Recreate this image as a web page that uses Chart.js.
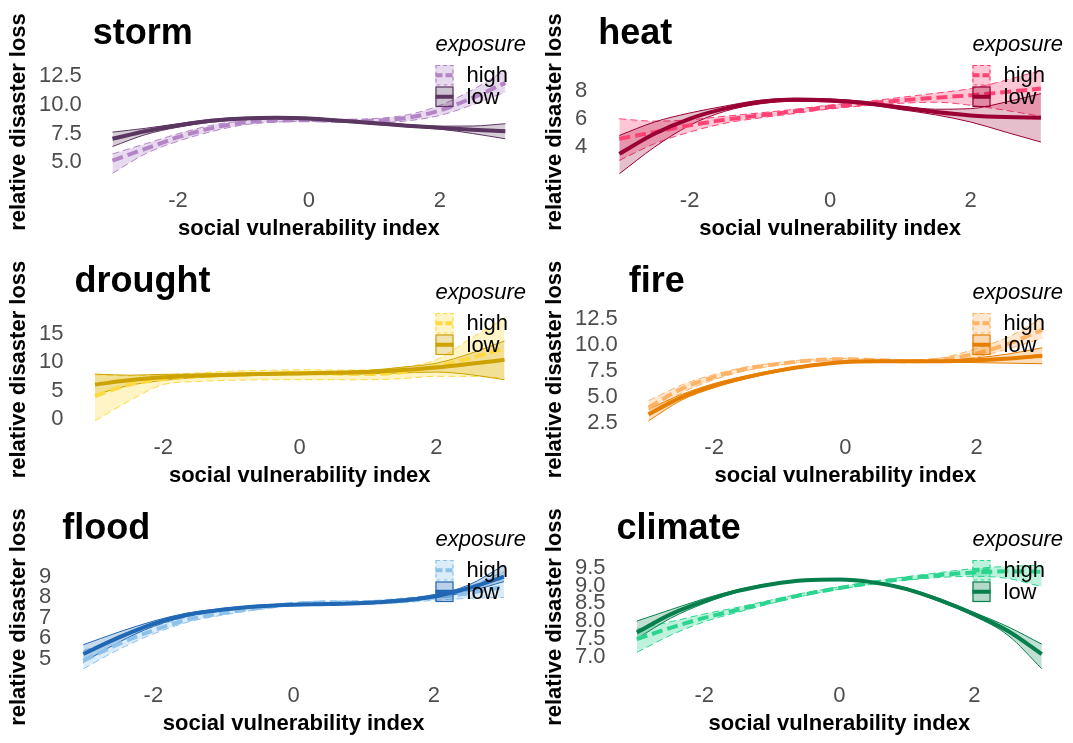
<!DOCTYPE html>
<html>
<head>
<meta charset="utf-8">
<script src="https://cdn.jsdelivr.net/npm/chart.js@4.4.1/dist/chart.umd.min.js"></script>
<style>
  html, body { margin: 0; padding: 0; background: #fff; }
  #grid { position: relative; width: 1073px; height: 743px; }
  .cell { position: absolute; }
</style>
</head>
<body>
<div id="grid"></div>
<script>
// social vulnerability index (x positions of the smoothed curves)
const svi = [-3, -2.5, -2, -1.5, -1, -0.5, 0, 0.5, 1, 1.5, 2, 2.5, 3];
const xTicks = [-2, 0, 2];
const xTickLabels = ["-2", "0", "2"];

// storm
const stormHigh   = [5.15, 6.17, 7.18, 7.95, 8.45, 8.62, 8.65, 8.6, 8.62, 8.87, 9.5, 10.6, 11.9];
const stormHighLo = [4.04, 5.73, 6.83, 7.65, 8.25, 8.5, 8.55, 8.48, 8.45, 8.6, 9.07, 10.0, 11.1];
const stormHighHi = [5.73, 6.6, 7.47, 8.2, 8.6, 8.75, 8.77, 8.72, 8.8, 9.12, 9.94, 11.3, 13.0];
const stormLow    = [7.04, 7.7, 8.2, 8.6, 8.8, 8.87, 8.8, 8.6, 8.4, 8.18, 8.0, 7.83, 7.7];
const stormLowLo  = [6.37, 7.4, 8.05, 8.48, 8.7, 8.78, 8.7, 8.5, 8.3, 8.08, 7.88, 7.5, 7.04];
const stormLowHi  = [7.62, 7.95, 8.35, 8.72, 8.9, 8.96, 8.9, 8.7, 8.5, 8.28, 8.14, 8.15, 8.35];
const stormTicks = [5, 7.5, 10, 12.5];
const stormTickLabels = ["5.0", "7.5", "10.0", "12.5"];

// heat
const heatHigh   = [4.6, 5.07, 5.55, 5.95, 6.26, 6.55, 6.86, 7.1, 7.33, 7.52, 7.69, 7.93, 8.17];
const heatHighLo = [3.05, 4.24, 5.07, 5.7, 6.08, 6.4, 6.72, 6.95, 7.12, 7.2, 6.98, 6.62, 6.2];
const heatHighHi = [6.02, 5.85, 5.95, 6.2, 6.44, 6.7, 7.0, 7.25, 7.54, 7.84, 8.17, 8.76, 9.48];
const heatLow    = [3.52, 4.95, 6.02, 6.74, 7.21, 7.38, 7.33, 7.14, 6.81, 6.5, 6.26, 6.14, 6.1];
const heatLowLo  = [2.1, 4.0, 5.55, 6.55, 7.08, 7.27, 7.22, 7.03, 6.68, 6.3, 5.79, 5.07, 4.36];
const heatLowHi  = [4.83, 5.79, 6.43, 6.92, 7.34, 7.49, 7.44, 7.25, 6.94, 6.7, 6.74, 7.21, 7.81];
const heatTicks = [4, 6, 8];
const heatTickLabels = ["4", "6", "8"];

// drought
const droughtHigh   = [4.04, 6.06, 7.04, 7.5, 7.8, 7.95, 8.08, 8.0, 7.9, 8.25, 9.23, 10.7, 12.4];
const droughtHighLo = [-0.3, 3.17, 6.06, 6.6, 6.8, 6.9, 6.92, 6.9, 6.9, 7.1, 7.5, 7.5, 7.2];
const droughtHighHi = [7.8, 7.6, 7.8, 8.1, 8.4, 8.55, 8.65, 8.6, 8.6, 9.1, 10.4, 14.1, 17.7];
const droughtLow    = [6.06, 6.8, 7.33, 7.6, 7.8, 7.92, 8.02, 8.12, 8.25, 8.6, 9.06, 9.7, 10.4];
const droughtLowLo  = [4.3, 5.9, 6.8, 7.3, 7.55, 7.7, 7.8, 7.9, 7.95, 8.1, 8.25, 7.8, 6.9];
const droughtLowHi  = [7.9, 7.7, 7.85, 7.9, 8.05, 8.15, 8.25, 8.35, 8.55, 9.1, 9.8, 11.5, 13.7];
const droughtTicks = [0, 5, 10, 15];
const droughtTickLabels = ["0", "5", "10", "15"];

// fire
const fireHigh   = [4.0, 5.79, 6.92, 7.72, 8.2, 8.53, 8.63, 8.53, 8.44, 8.63, 9.18, 10.15, 11.44];
const fireHighLo = [3.37, 5.4, 6.67, 7.55, 8.08, 8.43, 8.55, 8.45, 8.34, 8.45, 8.85, 9.66, 10.63];
const fireHighHi = [4.66, 6.15, 7.17, 7.9, 8.32, 8.63, 8.71, 8.61, 8.54, 8.8, 9.66, 10.8, 12.56];
const fireLow    = [3.37, 4.98, 6.1, 6.92, 7.56, 8.05, 8.37, 8.44, 8.44, 8.44, 8.53, 8.7, 8.95];
const fireLowLo  = [2.73, 4.7, 5.9, 6.78, 7.45, 7.97, 8.3, 8.37, 8.37, 8.35, 8.3, 8.25, 8.2];
const fireLowHi  = [3.85, 5.25, 6.3, 7.06, 7.67, 8.13, 8.44, 8.51, 8.51, 8.53, 8.76, 9.15, 9.73];
const fireTicks = [2.5, 5, 7.5, 10, 12.5];
const fireTickLabels = ["2.5", "5.0", "7.5", "10.0", "12.5"];

// flood
const floodHigh   = [4.92, 5.72, 6.39, 6.92, 7.24, 7.48, 7.67, 7.75, 7.75, 7.83, 7.99, 8.2, 8.52];
const floodHighLo = [4.52, 5.45, 6.22, 6.8, 7.14, 7.4, 7.6, 7.68, 7.67, 7.72, 7.85, 7.95, 7.99];
const floodHighHi = [5.4, 6.0, 6.56, 7.04, 7.34, 7.56, 7.74, 7.82, 7.83, 7.94, 8.13, 8.52, 9.24];
const floodLow    = [5.24, 6.04, 6.71, 7.16, 7.4, 7.56, 7.64, 7.67, 7.72, 7.83, 8.04, 8.44, 9.0];
const floodLowLo  = [4.84, 5.8, 6.58, 7.08, 7.34, 7.51, 7.6, 7.63, 7.67, 7.76, 7.96, 8.28, 8.76];
const floodLowHi  = [5.69, 6.3, 6.84, 7.24, 7.46, 7.61, 7.68, 7.71, 7.77, 7.9, 8.12, 8.6, 9.56];
const floodTicks = [5, 6, 7, 8, 9];
const floodTickLabels = ["5", "6", "7", "8", "9"];

// climate
const climateHigh   = [7.49, 7.81, 8.09, 8.32, 8.55, 8.76, 8.93, 9.08, 9.2, 9.3, 9.37, 9.4, 9.39];
const climateHighLo = [7.12, 7.6, 7.98, 8.25, 8.5, 8.72, 8.9, 9.04, 9.15, 9.23, 9.26, 9.2, 8.97];
const climateHighHi = [7.77, 7.98, 8.2, 8.39, 8.6, 8.8, 8.96, 9.12, 9.25, 9.37, 9.48, 9.54, 9.57];
const climateLow    = [7.68, 8.19, 8.56, 8.85, 9.04, 9.15, 9.17, 9.09, 8.9, 8.58, 8.19, 7.72, 7.07];
const climateLowLo  = [7.5, 8.08, 8.5, 8.82, 9.02, 9.13, 9.15, 9.07, 8.87, 8.54, 8.14, 7.6, 6.66];
const climateLowHi  = [8.0, 8.32, 8.63, 8.89, 9.07, 9.17, 9.19, 9.11, 8.93, 8.62, 8.24, 7.84, 7.35];
const climateTicks = [7, 7.5, 8, 8.5, 9, 9.5];
const climateTickLabels = ["7.0", "7.5", "8.0", "8.5", "9.0", "9.5"];

const FONT = '"Liberation Sans", Arial, Helvetica, sans-serif';
Chart.defaults.font.family = FONT;

function rgba(hex, a) {
  const n = parseInt(hex.slice(1), 16);
  return `rgba(${(n >> 16) & 255},${(n >> 8) & 255},${n & 255},${a})`;
}

const panels = [
  { name: "storm", hiCol: "#B384C6", loCol: "#5A3660", yMin: 3.55, yMax: 13.45,
    high: [stormHigh, stormHighLo, stormHighHi], low: [stormLow, stormLowLo, stormLowHi],
    ticks: stormTicks, tickLabels: stormTickLabels },
  { name: "heat", hiCol: "#FF4274", loCol: "#9A0034", yMin: 1.73, yMax: 9.85,
    high: [heatHigh, heatHighLo, heatHighHi], low: [heatLow, heatLowLo, heatLowHi],
    ticks: heatTicks, tickLabels: heatTickLabels },
  { name: "drought", hiCol: "#FFD940", loCol: "#CCA300", yMin: -1.2, yMax: 18.6,
    high: [droughtHigh, droughtHighLo, droughtHighHi], low: [droughtLow, droughtLowLo, droughtLowHi],
    ticks: droughtTicks, tickLabels: droughtTickLabels },
  { name: "fire", hiCol: "#FFB366", loCol: "#E67E00", yMin: 2.24, yMax: 13.05,
    high: [fireHigh, fireHighLo, fireHighHi], low: [fireLow, fireLowLo, fireLowHi],
    ticks: fireTicks, tickLabels: fireTickLabels },
  { name: "flood", hiCol: "#8EC1EA", loCol: "#2068B3", yMin: 4.27, yMax: 9.81,
    high: [floodHigh, floodHighLo, floodHighHi], low: [floodLow, floodLowLo, floodLowHi],
    ticks: floodTicks, tickLabels: floodTickLabels },
  { name: "climate", hiCol: "#2BD58F", loCol: "#067F4D", yMin: 6.51, yMax: 9.72,
    high: [climateHigh, climateHighLo, climateHighHi], low: [climateLow, climateLowLo, climateLowHi],
    ticks: climateTicks, tickLabels: climateTickLabels },
];

const rowTop = [0, 248, 495];
const rowH = [248, 247, 248];

// draws the panel title and the in-panel legend
const decor = {
  id: "decor",
  afterDraw(chart, args, opts) {
    const { ctx, chartArea, width } = chart;
    ctx.save();
    ctx.fillStyle = "#000";
    ctx.textAlign = "left";
    ctx.textBaseline = "alphabetic";
    ctx.font = `bold 36px ${FONT}`;
    ctx.fillText(opts.title, chartArea.left, 44);

    ctx.font = `italic 22px ${FONT}`;
    const tw = ctx.measureText("exposure").width;
    const lx = width - 10 - tw;
    ctx.textBaseline = "middle";
    ctx.fillText("exposure", lx, 45);

    const keys = [
      { label: "high", color: opts.hiCol, edge: [4, 3], mid: [7, 3] },
      { label: "low", color: opts.loCol, edge: [], mid: [] },
    ];
    keys.forEach((k, i) => {
      const ky = 65 + i * 21.5, kw = 18, kh = 20.5;
      ctx.fillStyle = rgba(k.color, 0.3);
      ctx.fillRect(lx, ky, kw, kh);
      ctx.strokeStyle = k.color;
      ctx.lineWidth = 1.2;
      ctx.setLineDash(k.edge);
      ctx.strokeRect(lx + 0.5, ky + 0.5, kw - 1, kh - 1);
      ctx.lineWidth = 4;
      ctx.setLineDash(k.mid);
      ctx.beginPath();
      ctx.moveTo(lx, ky + kh / 2);
      ctx.lineTo(lx + kw, ky + kh / 2);
      ctx.stroke();
      ctx.setLineDash([]);
      ctx.fillStyle = "#000";
      ctx.font = `22px ${FONT}`;
      ctx.fillText(k.label, lx + kw + 13, ky + kh / 2 + 1);
    });
    ctx.restore();
  },
};

function pts(ys) {
  return svi.map((x, i) => ({ x: x, y: ys[i] }));
}

function line(ys, color, width, dash, order, extra) {
  return Object.assign({
    data: pts(ys),
    borderColor: color,
    borderWidth: width,
    borderDash: dash,
    pointRadius: 0,
    cubicInterpolationMode: "monotone",
    fill: false,
    order: order,
  }, extra || {});
}

const grid = document.getElementById("grid");

panels.forEach((p, i) => {
  const col = i % 2, row = Math.floor(i / 2);
  const w = col === 0 ? 536 : 537, h = rowH[row];
  const cell = document.createElement("div");
  cell.className = "cell";
  cell.style.left = (col * 536) + "px";
  cell.style.top = rowTop[row] + "px";
  cell.style.width = w + "px";
  cell.style.height = h + "px";
  const canvas = document.createElement("canvas");
  canvas.width = w;
  canvas.height = h;
  cell.appendChild(canvas);
  grid.appendChild(cell);

  const [hiM, hiLo, hiHi] = p.high;
  const [loM, loLo, loHi] = p.low;

  new Chart(canvas, {
    type: "line",
    data: {
      datasets: [
        line(hiLo, p.hiCol, 1, [7, 4], 6),
        line(hiHi, p.hiCol, 1, [7, 4], 6, { fill: { target: 0 }, backgroundColor: rgba(p.hiCol, 0.3) }),
        line(loLo, p.loCol, 1, [], 5),
        line(loHi, p.loCol, 1, [], 5, { fill: { target: 2 }, backgroundColor: rgba(p.loCol, 0.25) }),
        line(hiM, p.hiCol, 4, [11, 5], 2),
        line(loM, p.loCol, 4, [], 1),
      ],
    },
    options: {
      responsive: false,
      animation: false,
      devicePixelRatio: 1,
      layout: { padding: { top: 65, right: 11, left: 0, bottom: 0 } },
      plugins: {
        legend: { display: false },
        tooltip: { enabled: false },
        decor: { title: p.name, hiCol: p.hiCol, loCol: p.loCol },
      },
      scales: {
        x: {
          type: "linear",
          min: -3.3,
          max: 3.3,
          grid: { display: false, drawTicks: false },
          border: { display: false },
          afterBuildTicks: (s) => { s.ticks = xTicks.map((v) => ({ value: v })); },
          afterFit: (s) => { s.height = 69; },
          ticks: {
            autoSkip: false,
            maxRotation: 0,
            padding: 9,
            color: "#4D4D4D",
            font: { size: 22 },
            callback: (v) => xTickLabels[xTicks.indexOf(v)],
          },
          title: {
            display: true,
            text: "social vulnerability index",
            color: "#000",
            font: { size: 22, weight: "bold", lineHeight: 1 },
            padding: { top: 0, bottom: 8 },
          },
        },
        y: {
          min: p.yMin,
          max: p.yMax,
          grid: { display: false, drawTicks: false },
          border: { display: false },
          afterBuildTicks: (s) => { s.ticks = p.ticks.map((v) => ({ value: v })); },
          ticks: {
            autoSkip: false,
            padding: 11,
            color: "#4D4D4D",
            font: { size: 22 },
            callback: (v) => p.tickLabels[p.ticks.indexOf(v)],
          },
          title: {
            display: true,
            text: "relative disaster loss",
            color: "#000",
            font: { size: 22, weight: "bold", lineHeight: 1 },
            padding: { top: 8, bottom: -2 },
          },
        },
      },
    },
    plugins: [decor],
  });
});
</script>
</body>
</html>
